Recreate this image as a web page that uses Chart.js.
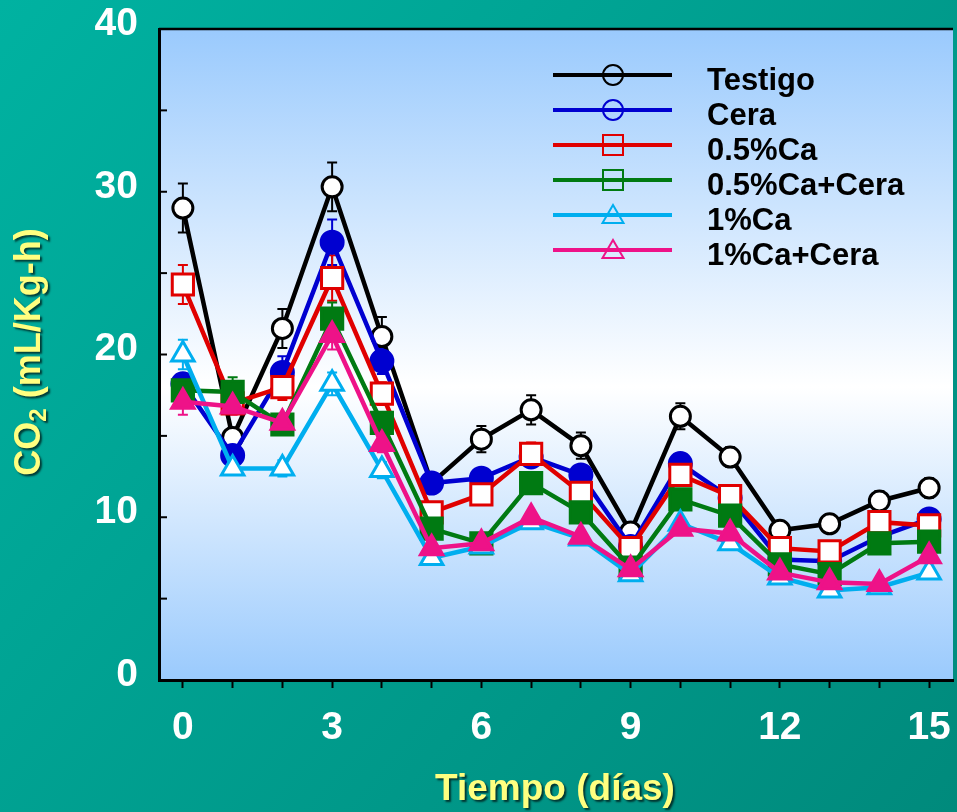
<!DOCTYPE html>
<html>
<head>
<meta charset="utf-8">
<script src="https://cdn.jsdelivr.net/npm/chart.js@4"></script>
<style>
  html, body { margin: 0; padding: 0; background: #00a292; }
  #wrap { width: 957px; height: 812px; }
</style>
</head>
<body>
<div id="wrap"><canvas id="co2Chart" width="957" height="812"></canvas></div>
<script>
// Datos
const dias = [0, 1, 2, 3, 4, 5, 6, 7, 8, 9, 10, 11, 12, 13, 14, 15];
const ticksX = [0, 1, 2, 3, 4, 5, 6, 7, 8, 9, 10, 11, 12, 13, 14, 15];
const ticksY = [0, 5, 10, 15, 20, 25, 30, 35, 40];

const nombres = ['Testigo', 'Cera', '0.5%Ca', '0.5%Ca+Cera', '1%Ca', '1%Ca+Cera'];

const testigo   = [29.0, 14.9, 21.6, 30.3, 21.1, 12.1, 14.8, 16.6, 14.4, 9.1, 16.2, 13.7, 9.2, 9.6, 11.0, 11.8];
const cera      = [18.2, 13.8, 18.9, 26.9, 19.6, 12.1, 12.4, 13.7, 12.6, 8.2, 13.3, 11.2, 7.4, 7.3, 8.8, 9.9];
const ca05      = [24.3, 17.0, 18.0, 24.7, 17.6, 10.3, 11.4, 13.9, 11.5, 8.1, 12.6, 11.3, 8.1, 7.9, 9.7, 9.5];
const ca05cera  = [17.8, 17.7, 15.7, 22.2, 15.8, 9.3, 8.4, 12.1, 10.3, 6.9, 11.1, 10.1, 7.1, 6.5, 8.4, 8.5];
const ca1       = [20.0, 13.0, 13.0, 18.2, 12.9, 7.5, 8.2, 9.7, 8.7, 6.5, 9.6, 8.4, 6.3, 5.5, 5.7, 6.6];
const ca1cera   = [17.1, 16.8, 15.8, 21.2, 14.5, 8.1, 8.4, 10.0, 8.8, 6.8, 9.3, 9.0, 6.6, 6.0, 5.9, 7.6];

// Error estándar de cada punto
const errTestigo  = [1.5, 0.6, 1.2, 1.5, 1.2, 0.3, 0.8, 0.9, 0.8, 0.3, 0.8, 0.6, 0.3, 0.4, 0.6, 0.6];
const errCera     = [0.6, 0.4, 1.0, 1.4, 0.8, 0.3, 0.5, 0.5, 0.5, 0.3, 0.6, 0.4, 0.3, 0.3, 0.3, 0.4];
const errCa05     = [1.2, 0.6, 0.8, 1.4, 0.7, 0.3, 0.4, 0.7, 0.4, 0.3, 0.5, 0.3, 0.3, 0.3, 0.3, 0.3];
const errCa05Cera = [0.5, 0.9, 0.6, 1.0, 0.6, 0.3, 0.3, 0.4, 0.4, 0.3, 0.4, 0.3, 0.3, 0.3, 0.3, 0.3];
const errCa1      = [0.9, 0.3, 0.5, 0.7, 0.5, 0.3, 0.3, 0.3, 0.3, 0.3, 0.3, 0.3, 0.3, 0.3, 0.3, 0.3];
const errCa1Cera  = [0.8, 0.5, 0.4, 0.9, 0.5, 0.3, 0.3, 0.3, 0.3, 0.3, 0.3, 0.3, 0.3, 0.3, 0.3, 0.3];

const series  = [testigo, cera, ca05, ca05cera, ca1, ca1cera];
const errores = [errTestigo, errCera, errCa05, errCa05Cera, errCa1, errCa1Cera];
const colores = ['#000000', '#0000d0', '#e00000', '#007a12', '#00aeef', '#ee1288'];
const marcas  = ['circle', 'circle', 'rect', 'rect', 'triangle', 'triangle'];
const rellenos = [false, true, false, true, false, true];
const radios  = [10, 11, 15, 15, 13, 13];

const FUENTE = '"Liberation Sans", Arial, sans-serif';

// Fondo verde y área de la gráfica con degradado
const fondoPlugin = {
    id: 'fondo',
    beforeDraw(chart) {
        const { ctx, width, height, chartArea: a } = chart;
        ctx.save();
        const g = ctx.createLinearGradient(0, 0, width, height);
        g.addColorStop(0, '#00b2a1');
        g.addColorStop(1, '#008a7c');
        ctx.fillStyle = g;
        ctx.fillRect(0, 0, width, height);
        const p = ctx.createLinearGradient(0, a.top, 0, a.bottom);
        p.addColorStop(0, '#9acafd');
        p.addColorStop(0.55, '#ffffff');
        p.addColorStop(1, '#9acafd');
        ctx.fillStyle = p;
        ctx.fillRect(a.left, a.top, a.right - a.left, a.bottom - a.top);
        ctx.restore();
    }
};

// Barras de error
const erroresPlugin = {
    id: 'barrasError',
    beforeDatasetsDraw(chart) {
        const { ctx } = chart;
        const y = chart.scales.y;
        ctx.save();
        ctx.lineWidth = 2;
        chart.data.datasets.forEach((ds, i) => {
            const meta = chart.getDatasetMeta(i);
            ctx.strokeStyle = ds.borderColor;
            meta.data.forEach((pt, j) => {
                const v = ds.data[j].y;
                const e = errores[i][j];
                const y1 = y.getPixelForValue(v + e);
                const y2 = y.getPixelForValue(v - e);
                ctx.beginPath();
                ctx.moveTo(pt.x, y1); ctx.lineTo(pt.x, y2);
                ctx.moveTo(pt.x - 5, y1); ctx.lineTo(pt.x + 5, y1);
                ctx.moveTo(pt.x - 5, y2); ctx.lineTo(pt.x + 5, y2);
                ctx.stroke();
            });
        });
        ctx.restore();
    }
};

function dibujarMarca(ctx, tipo, x, y) {
    ctx.beginPath();
    if (tipo === 'circle') {
        ctx.arc(x, y, 10, 0, Math.PI * 2);
    } else if (tipo === 'rect') {
        ctx.rect(x - 10, y - 10, 20, 20);
    } else {
        ctx.moveTo(x, y - 10);
        ctx.lineTo(x + 10.5, y + 8);
        ctx.lineTo(x - 10.5, y + 8);
        ctx.closePath();
    }
    ctx.stroke();
}

// Leyenda, marcas del eje Y, borde superior y títulos
const extrasPlugin = {
    id: 'extras',
    afterDraw(chart) {
        const { ctx, chartArea: a } = chart;
        const y = chart.scales.y;
        ctx.save();

        // marcas hacia dentro del eje Y
        ctx.strokeStyle = '#000';
        ctx.lineWidth = 2;
        ticksY.forEach(v => {
            const py = y.getPixelForValue(v);
            ctx.beginPath();
            ctx.moveTo(a.left, py);
            ctx.lineTo(a.left + 8, py);
            ctx.stroke();
        });

        // borde superior
        ctx.lineWidth = 2.5;
        ctx.beginPath();
        ctx.moveTo(a.left, a.top);
        ctx.lineTo(a.right, a.top);
        ctx.stroke();

        // leyenda
        chart.data.datasets.forEach((ds, i) => {
            const fy = 75 + i * 35;
            ctx.strokeStyle = ds.borderColor;
            ctx.lineWidth = 4;
            ctx.beginPath();
            ctx.moveTo(553, fy);
            ctx.lineTo(672, fy);
            ctx.stroke();
            ctx.lineWidth = 2;
            dibujarMarca(ctx, marcas[i], 613, fy);
            ctx.fillStyle = '#000';
            ctx.font = 'bold 31px ' + FUENTE;
            ctx.textAlign = 'left';
            ctx.textBaseline = 'alphabetic';
            ctx.fillText(ds.label, 707, fy + 15);
        });

        // títulos de ejes
        ctx.fillStyle = '#ffff80';
        ctx.shadowColor = 'rgba(0,0,0,0.65)';
        ctx.shadowOffsetX = 2;
        ctx.shadowOffsetY = 2;
        ctx.shadowBlur = 2;
        ctx.font = 'bold 37px ' + FUENTE;
        ctx.textAlign = 'center';
        ctx.textBaseline = 'alphabetic';
        ctx.fillText('Tiempo (días)', 555, 800);

        ctx.translate(40, 352);
        ctx.rotate(-Math.PI / 2);
        ctx.textAlign = 'left';
        const f1 = 'bold 36px ' + FUENTE;
        const f2 = 'bold 24px ' + FUENTE;
        ctx.font = f1;
        const w1 = ctx.measureText('CO').width;
        const w3 = ctx.measureText(' (mL/Kg-h)').width;
        ctx.font = f2;
        const w2 = ctx.measureText('2').width;
        let x0 = -(w1 + w2 + w3) / 2;
        ctx.font = f1;
        ctx.fillText('CO', x0, 0);
        ctx.font = f2;
        ctx.fillText('2', x0 + w1, 6);
        ctx.font = f1;
        ctx.fillText(' (mL/Kg-h)', x0 + w1 + w2, 0);

        ctx.restore();
    }
};

const datasets = series.map((s, i) => ({
    label: nombres[i],
    data: dias.map((d, j) => ({ x: d, y: s[j] })),
    borderColor: colores[i],
    backgroundColor: colores[i],
    borderWidth: 4.5,
    pointStyle: marcas[i],
    pointRadius: radios[i],
    pointHoverRadius: radios[i],
    pointBorderWidth: 3,
    pointBackgroundColor: rellenos[i] ? colores[i] : '#ffffff',
    pointBorderColor: colores[i],
    tension: 0,
    order: series.length - i
}));

new Chart(document.getElementById('co2Chart'), {
    type: 'line',
    data: { datasets: datasets },
    options: {
        responsive: false,
        animation: false,
        layout: { autoPadding: false, padding: { top: 29, right: 4, left: 0, bottom: 0 } },
        plugins: {
            legend: { display: false },
            tooltip: { enabled: false }
        },
        scales: {
            x: {
                type: 'linear',
                min: -0.48,
                max: 15.48,
                afterFit: s => { s.height = 132; s.paddingLeft = 0; s.paddingRight = 0; },
                afterBuildTicks: s => { s.ticks = ticksX.map(v => ({ value: v })); },
                border: { display: true, color: '#000', width: 3 },
                grid: { drawOnChartArea: false, drawTicks: true, tickLength: 8, tickColor: '#000', tickWidth: 2 },
                ticks: {
                    color: '#ffffff',
                    font: { family: FUENTE, size: 39, weight: 'bold' },
                    padding: 17,
                    maxRotation: 0,
                    autoSkip: false,
                    callback: v => (v % 3 === 0 ? String(v) : '')
                }
            },
            y: {
                min: 0,
                max: 40,
                afterFit: s => { s.width = 159; s.paddingTop = 0; s.paddingBottom = 0; },
                afterBuildTicks: s => { s.ticks = ticksY.map(v => ({ value: v })); },
                border: { display: true, color: '#000', width: 3 },
                grid: { drawOnChartArea: false, drawTicks: false },
                ticks: {
                    color: '#ffffff',
                    font: { family: FUENTE, size: 39, weight: 'bold' },
                    padding: 21,
                    labelOffset: -5,
                    autoSkip: false,
                    callback: v => (v % 10 === 0 ? String(v) : '')
                }
            }
        }
    },
    plugins: [fondoPlugin, erroresPlugin, extrasPlugin]
});
</script>
</body>
</html>
